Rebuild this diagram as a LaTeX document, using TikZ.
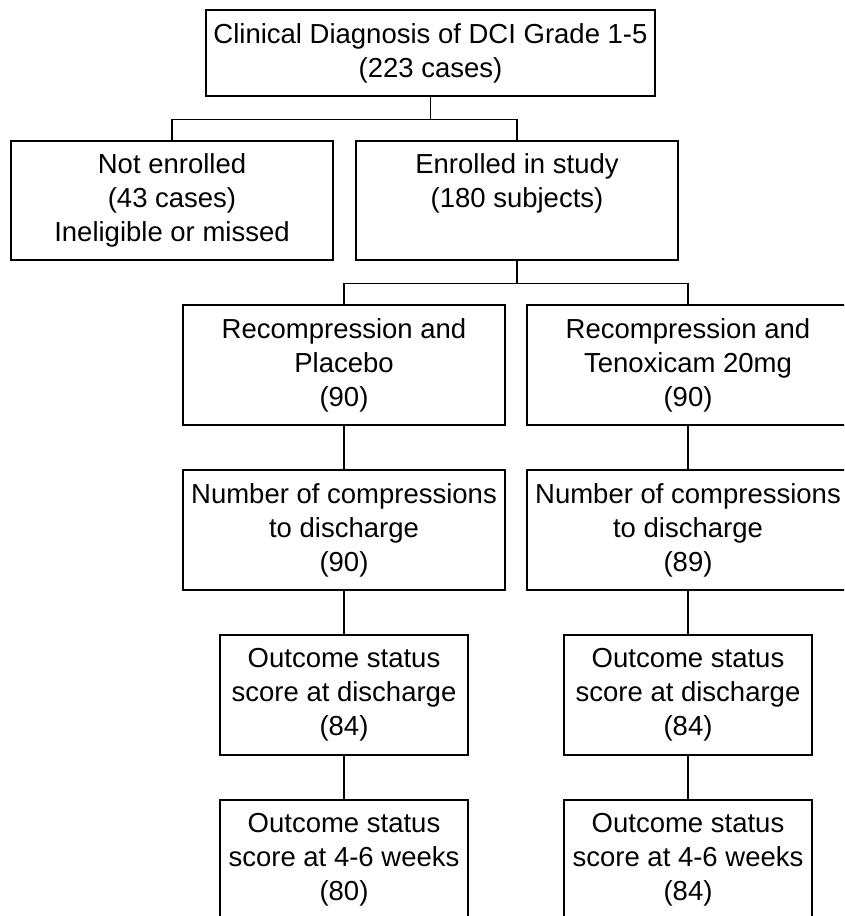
\documentclass[tikz,border=0pt]{standalone}
\usepackage{fontspec}
\setmainfont{Liberation Sans}

\begin{document}
\begin{tikzpicture}[x=1pt,y=-1pt,box/.style={draw, line width=1.9pt, align=center, inner sep=0pt, minimum width=322pt, minimum height=120pt, font=\fontsize{27.5}{34}\selectfont},narrow/.style={box, minimum width=248pt},wide/.style={box, minimum width=449pt, minimum height=86pt},link/.style={line width=1.9pt}]
\clip (0,0) rectangle (844,916);
\node[wide] (diag) at (430.5,53) {Clinical Diagnosis of DCI Grade 1-5\\(223 cases)};
\node[box, minimum height=119pt] (noten) at (172,200.5) {Not enrolled\\(43 cases)\\Ineligible or missed};
\node[box, minimum height=119pt] (enr) at (517,200.5) {Enrolled in study\\(180 subjects)\\\vphantom{g}};
\node[box] (plac) at (344,365) {Recompression and\\Placebo\\(90)};
\node[box] (teno) at (688,365) {Recompression and\\Tenoxicam 20mg\\(90)};
\node[box] (numl) at (344,530) {Number of compressions\\to discharge\\(90)};
\node[box] (numr) at (688,530) {Number of compressions\\to discharge\\(89)};
\node[narrow] (outl) at (344,695) {Outcome status\\score at discharge\\(84)};
\node[narrow] (outr) at (688,695) {Outcome status\\score at discharge\\(84)};
\node[narrow] (wkl) at (344,860) {Outcome status\\score at 4-6 weeks\\(80)};
\node[narrow] (wkr) at (688,860) {Outcome status\\score at 4-6 weeks\\(84)};
\draw[link] (diag.south) -- ++(0,22.5) -| (noten.north); \draw[link] (diag.south) -- ++(0,22.5) -| (enr.north);
\draw[link] (enr.south) -- ++(0,22.5) -| (plac.north); \draw[link] (enr.south) -- ++(0,22.5) -| (teno.north);
\draw[link] (plac) -- (numl); \draw[link] (numl) -- (outl); \draw[link] (outl) -- (wkl);
\draw[link] (teno) -- (numr); \draw[link] (numr) -- (outr); \draw[link] (outr) -- (wkr);
\end{tikzpicture}
\end{document}
